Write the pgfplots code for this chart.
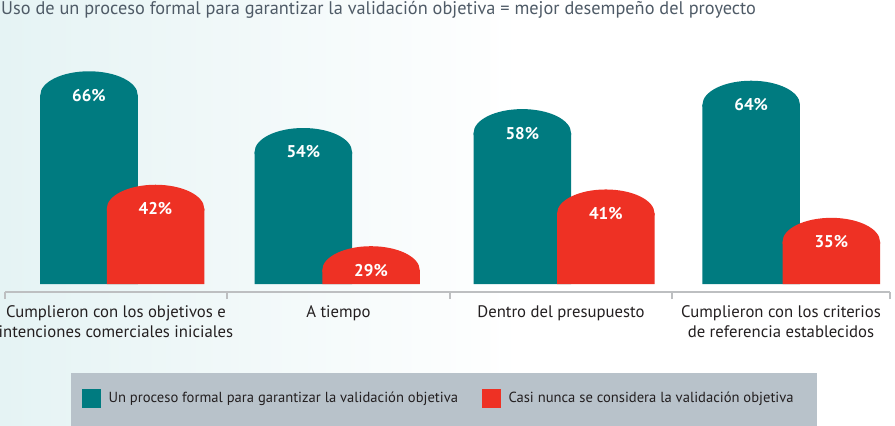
\documentclass[border=0pt]{standalone}
\usepackage{pgfplots}
\pgfplotsset{compat=1.18}
\usepackage{pgfplotstable}
\usepackage{fontspec}
\setmainfont{PT Sans}
\definecolor{tealc}{HTML}{007B80}
\definecolor{redc}{HTML}{EE3124}
\definecolor{bgc}{HTML}{E5F3F4}
\definecolor{axisgray}{HTML}{BDBFC1}
\definecolor{titlec}{HTML}{4F5B67}
\definecolor{labc}{HTML}{231F20}
\definecolor{legbg}{HTML}{B8C2CA}

\pgfdeclareplotmark{dome}{%
  \pgfpathmoveto{\pgfqpoint{-48.75pt}{-2pt}}%
  \pgfpathlineto{\pgfqpoint{-48.75pt}{0pt}}%
  \pgfpatharc{180}{0}{48.75pt and 24pt}%
  \pgfpathlineto{\pgfqpoint{48.75pt}{-2pt}}%
  \pgfpathclose
  \pgfusepathqfill}

\pgfplotstableread{
x v
89 66
303.3 54
522.3 58
751.2 64
}\tealdata
\pgfplotstableread{
x v
155.5 42
371 29
605.8 41
831.3 35
}\reddata

\begin{document}
\begin{tikzpicture}[x=1pt,y=1pt]
\useasboundingbox (0,0) rectangle (895,426);
\fill[white] (0,0) rectangle (895,426);
\shade[left color=bgc, right color=white] (0,0) rectangle (520,426);
\fill[legbg] (71,0) rectangle (817,53);
\node[anchor=base west, text=titlec, font=\fontsize{18.3}{20}\selectfont, inner sep=0pt] at (1,411) {Uso de un proceso formal para garantizar la validación objetiva = mejor desempeño del proyecto};
\begin{axis}[
  at={(5pt,134pt)}, anchor=south west,
  scale only axis, width=885pt, height=232pt,
  xmin=5, xmax=890, ymin=-1.69, ymax=47.38,
  clip=false,
  axis x line*=bottom, axis y line=none,
  x axis line style={axisgray, line width=2pt},
  xtick={5,227,450,672,890}, xticklabels={},
  major tick length=7pt, tick align=outside,
  xtick style={axisgray, line width=2pt},
  extra x ticks={116,338.5,561,781},
  extra x tick labels={{Cumplieron con los objetivos e\\intenciones comerciales iniciales},{A tiempo},{Dentro del presupuesto},{Cumplieron con los criterios\\de referencia establecidos}},
  extra x tick style={major tick length=0pt, tick label style={font=\fontsize{16.7}{20}\selectfont, text=labc, align=center, yshift=-10pt}},
  legend columns=2,
  legend style={at={(axis cs:82,-24.11)}, anchor=west, draw=none, fill=none, inner sep=0pt,
    nodes={inner sep=0pt, font=\fontsize{14.6}{17}\selectfont, text=labc},
    /tikz/every odd column/.append style={column sep=8pt},
    /tikz/every even column/.append style={column sep=24pt}},
  legend cell align=left,
]
\addlegendimage{legend image code/.code={\fill[tealc] (0pt,-9pt) rectangle (18pt,9pt);}}
\addlegendentry{Un proceso formal para garantizar la validación objetiva}
\addlegendimage{legend image code/.code={\fill[redc] (0pt,-9pt) rectangle (18pt,9pt);}}
\addlegendentry{Casi nunca se considera la validación objetiva}

\addplot[ybar, bar width=97.5pt, bar shift=0pt, fill=tealc, draw=none, forget plot] table[x=x, y expr=\thisrow{v}-26.08] {\tealdata};
\addplot[only marks, mark=dome, mark options={fill=tealc, draw=none}, forget plot,
  point meta=\thisrow{v},
  nodes near coords={\pgfmathprintnumber[assume math mode=true]{\pgfplotspointmeta}\%},
  nodes near coords align=center,
  nodes near coords style={text=white, font=\fontsize{17}{20}\selectfont\bfseries, inner sep=0pt}] table[x=x, y expr=\thisrow{v}-26.08] {\tealdata};
\addplot[ybar, bar width=97.5pt, bar shift=0pt, fill=redc, draw=none, forget plot] table[x=x, y expr=\thisrow{v}-26.08] {\reddata};
\addplot[only marks, mark=dome, mark options={fill=redc, draw=none}, forget plot,
  point meta=\thisrow{v},
  nodes near coords={\pgfmathprintnumber[assume math mode=true]{\pgfplotspointmeta}\%},
  nodes near coords align=center,
  nodes near coords style={text=white, font=\fontsize{17}{20}\selectfont\bfseries, inner sep=0pt}] table[x=x, y expr=\thisrow{v}-26.08] {\reddata};
\end{axis}
\end{tikzpicture}
\end{document}
